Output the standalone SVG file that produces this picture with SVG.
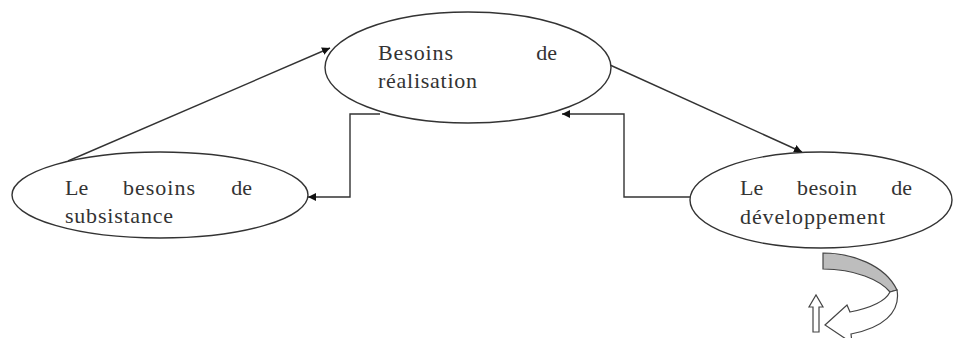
<svg xmlns="http://www.w3.org/2000/svg" width="953" height="338" viewBox="0 0 953 338">
<style>
.node{fill:#fff;stroke:#333;stroke-width:1.4}
.t{font-family:"Liberation Serif","Times New Roman",serif;font-size:22px;fill:#333}
.c{fill:none;stroke:#333;stroke-width:1.4}
.sh{stroke:#444;stroke-width:1.2}
</style>
<defs>
<marker id="ah" viewBox="0 0 10 10" refX="10" refY="5" markerWidth="8" markerHeight="8" markerUnits="userSpaceOnUse" orient="auto">
<path d="M0,0 L10,5 L0,10 Z" fill="#111"/>
</marker>
</defs>
<rect width="953" height="338" fill="#fff"/>
<g id="connectors">
<path class="c" d="M68,161 L330,48" marker-end="url(#ah)"/>
<path class="c" d="M610,65 L802,152" marker-end="url(#ah)"/>
<path class="c" d="M690,197 H624 V114 H562" marker-end="url(#ah)"/>
<path class="c" d="M380,114 H350 V197 H308" marker-end="url(#ah)"/>
</g>
<g id="node-realisation">
<ellipse class="node" cx="468" cy="67.5" rx="143" ry="55.5"/>
<text class="t" x="378" y="60" textLength="75">Besoins</text>
<text class="t" x="557" y="60" text-anchor="end">de</text>
<text class="t" x="378" y="88" textLength="99">réalisation</text>
</g>
<g id="node-subsistance">
<ellipse class="node" cx="160" cy="195" rx="148" ry="43"/>
<text class="t" x="65" y="195">Le</text>
<text class="t" x="123" y="195" textLength="72">besoins</text>
<text class="t" x="252" y="195" text-anchor="end">de</text>
<text class="t" x="65" y="223" textLength="108">subsistance</text>
</g>
<g id="node-developpement">
<ellipse class="node" cx="821" cy="200" rx="131" ry="48"/>
<text class="t" x="740" y="195">Le</text>
<text class="t" x="797" y="195" textLength="60">besoin</text>
<text class="t" x="912" y="195" text-anchor="end">de</text>
<text class="t" x="740" y="224" textLength="145">développement</text>
</g>
<g id="curved-arrow">
<path class="sh" fill="#bdbdbd" d="M823,253 C852,253 885,265 897,290 L890,292 C880,280 855,269 823,269 Z"/>
<path class="sh" fill="#fff" d="M890,292 C885,302 870,308 850,312 L847,305 L825,325 L852,343 L851,334 C882,328 901,313 897,290 Z"/>
</g>
<g id="up-arrow">
<path class="sh" fill="#fff" d="M813,332 V307 H809 L816,295 L823,307 H819 V332 Z"/>
</g>
</svg>
